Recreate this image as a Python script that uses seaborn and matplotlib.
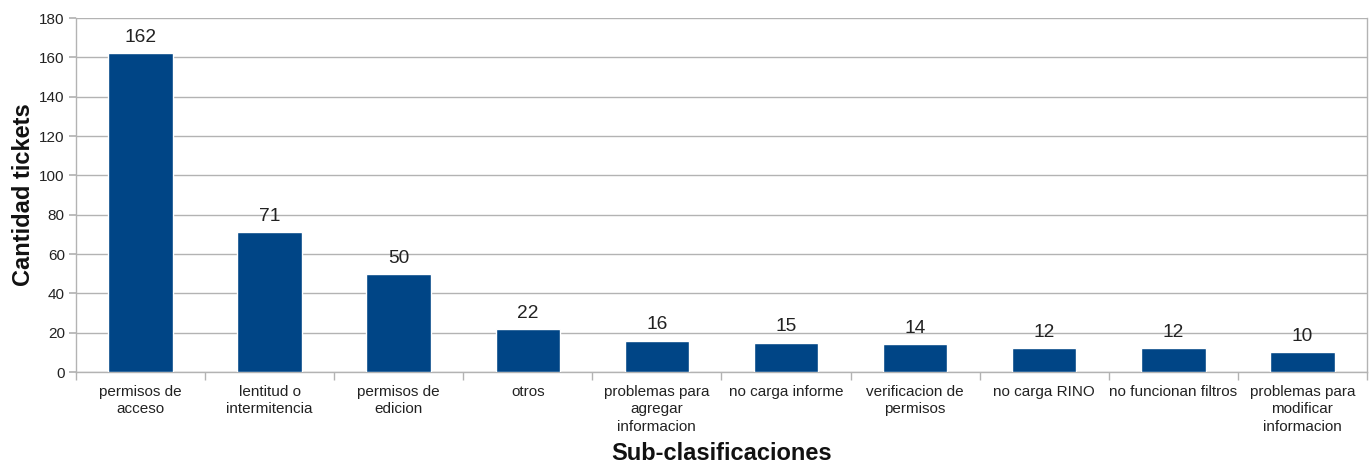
import matplotlib
matplotlib.use("Agg")
import matplotlib.pyplot as plt
import seaborn as sns
import pandas as pd
from matplotlib.ticker import FixedLocator, NullFormatter

categorias = [
    "permisos de\nacceso",
    "lentitud o\nintermitencia",
    "permisos de\nedicion",
    "otros",
    "problemas para\nagregar\ninformacion",
    "no carga informe",
    "verificacion de\npermisos",
    "no carga RINO",
    "no funcionan filtros",
    "problemas para\nmodificar\ninformacion",
]
cantidades = [162, 71, 50, 22, 16, 15, 14, 12, 12, 10]
y_ticks = [0, 20, 40, 60, 80, 100, 120, 140, 160, 180]

df = pd.DataFrame({"categoria": categorias, "cantidad": cantidades})

sns.set_theme(style="white")
plt.rcParams["font.family"] = ["Liberation Sans", "DejaVu Sans"]

fig = plt.figure(figsize=(13.71, 4.63), dpi=100)
ax = fig.add_axes([0.0554, 0.1965, 0.9416, 0.7645])

sns.barplot(data=df, x="categoria", y="cantidad", color="#004586",
            width=0.5, saturation=1, ax=ax, zorder=3)

ax.set_ylim(0, 180)
ax.set_xlim(-0.5, len(categorias) - 0.5)
ax.set_yticks(y_ticks)
ax.yaxis.grid(True, color="#b3b3b3", linewidth=1, zorder=0)
ax.set_axisbelow(True)

for spine in ["left", "bottom", "right"]:
    ax.spines[spine].set_color("#b3b3b3")
    ax.spines[spine].set_linewidth(1)
ax.spines["top"].set_visible(False)

ax.tick_params(axis="y", which="both", length=5, color="#b3b3b3",
               labelsize=11, labelcolor="#222222", left=True, pad=3)
ax.tick_params(axis="x", which="major", length=0, labelsize=11,
               labelcolor="#222222", pad=9)
# category separators on the x axis
ax.xaxis.set_minor_locator(FixedLocator([i + 0.5 for i in range(-1, len(categorias))]))
ax.xaxis.set_minor_formatter(NullFormatter())
ax.tick_params(axis="x", which="minor", length=6, color="#b3b3b3", bottom=True)

for lbl in ax.get_xticklabels():
    lbl.set_verticalalignment("top")
    lbl.set_linespacing(1.32)

for i, v in enumerate(cantidades):
    ax.text(i, v + 3.6, str(v), ha="center", va="bottom", fontsize=13.8,
            color="#222222")

ax.set_xlabel("Sub-clasificaciones", fontsize=17, fontweight="bold",
              color="#111111", labelpad=6)
ax.set_ylabel("Cantidad tickets", fontsize=17, fontweight="bold",
              color="#111111", labelpad=3)

fig.savefig("out.png", dpi=100, facecolor="white")
